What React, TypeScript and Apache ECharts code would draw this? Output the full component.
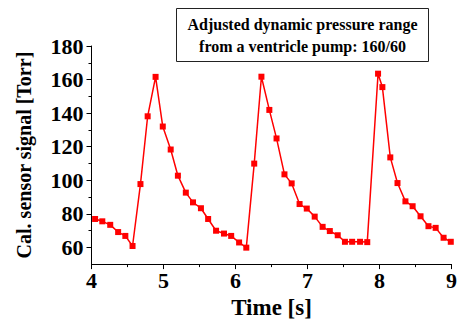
import React, { useEffect, useRef } from "react";
import * as echarts from "echarts";

const times = [
  4.05, 4.15, 4.26, 4.37, 4.47, 4.57, 4.68, 4.78, 4.89, 4.99, 5.1, 5.2, 5.31, 5.41, 5.52, 5.62,
  5.73, 5.84, 5.94, 6.05, 6.15, 6.26, 6.36, 6.47, 6.57, 6.68, 6.78, 6.89, 6.99, 7.1, 7.21, 7.31,
  7.42, 7.52, 7.62, 7.73, 7.83, 7.98, 8.04, 8.15, 8.25, 8.36, 8.46, 8.57, 8.68, 8.78, 8.89, 8.99,
];
const signal = [
  76.9, 75.5, 73.4, 69.1, 66.8, 60.8, 97.7, 138.1, 161.6, 132.0, 118.3, 102.7, 92.6, 86.8, 83.3, 76.9,
  69.9, 68.2, 66.8, 62.9, 59.8, 109.9, 161.7, 141.9, 124.9, 103.5, 98.1, 85.8, 83.1, 78.3, 72.2, 69.7,
  67.2, 63.3, 63.3, 63.3, 63.1, 163.5, 155.5, 113.6, 98.3, 87.4, 84.5, 78.5, 72.6, 71.6, 65.7, 63.3,
];
const yMajorTicks = [60, 80, 100, 120, 140, 160, 180];
const yMinorTicks = [70, 90, 110, 130, 150, 170];
const annotationLines = ["Adjusted dynamic pressure range", "from a ventricle pump: 160/60"];

const FONT = "'Liberation Serif', 'Times New Roman', serif";

export default function App() {
  const ref = useRef<HTMLDivElement>(null);
  useEffect(() => {
    if (!ref.current) return;
    const chart = echarts.init(ref.current, null, { renderer: "svg" });
    const data = times.map((t, i) => [t, signal[i]]);
    chart.setOption({
      animation: false,
      backgroundColor: "#ffffff",
      grid: { left: 91.5, right: 4, top: 46, bottom: 55 },
      xAxis: {
        type: "value",
        min: 4,
        max: 9,
        interval: 1,
        axisLine: { show: true, lineStyle: { color: "#000", width: 1 } },
        axisTick: { show: true, length: 5, lineStyle: { color: "#000" } },
        minorTick: { show: true, splitNumber: 2, length: 3, lineStyle: { color: "#000" } },
        splitLine: { show: false },
        axisLabel: { color: "#000", fontFamily: FONT, fontWeight: "bold", fontSize: 22, margin: 5 },
        name: "Time [s]",
        nameLocation: "middle",
        nameGap: 28,
        nameTextStyle: { color: "#000", fontFamily: FONT, fontWeight: "bold", fontSize: 23 },
      },
      yAxis: [
        {
          type: "value",
          min: 50,
          max: 180,
          axisLine: { show: true, lineStyle: { color: "#000", width: 1 } },
          axisTick: { show: true, length: 5, customValues: yMajorTicks, lineStyle: { color: "#000" } },
          splitLine: { show: false },
          axisLabel: {
            color: "#000",
            fontFamily: FONT,
            fontWeight: "bold",
            fontSize: 22,
            margin: 8,
            customValues: yMajorTicks,
          },
          name: "Cal. sensor signal [Torr]",
          nameLocation: "middle",
          nameGap: 58,
          nameTextStyle: { color: "#000", fontFamily: FONT, fontWeight: "bold", fontSize: 20 },
        },
        {
          type: "value",
          min: 50,
          max: 180,
          position: "left",
          axisLine: { show: false },
          axisTick: { show: true, length: 3, customValues: yMinorTicks, lineStyle: { color: "#000" } },
          axisLabel: { show: false },
          splitLine: { show: false },
        },
      ],
      series: [
        {
          type: "line",
          data,
          yAxisIndex: 0,
          symbol: "rect",
          symbolSize: 6,
          itemStyle: { color: "#ff0000" },
          lineStyle: { color: "#ff0000", width: 1.5 },
        },
      ],
      graphic: [
        {
          type: "group",
          left: 176,
          top: 8,
          children: [
            {
              type: "rect",
              shape: { x: 0, y: 0, width: 252, height: 53 },
              style: { fill: "#fff", stroke: "#222", lineWidth: 1 },
            },
            {
              type: "text",
              x: 126,
              y: 16,
              style: {
                text: annotationLines[0],
                fill: "#000",
                font: `bold 16px ${FONT}`,
                textAlign: "center",
                textVerticalAlign: "middle",
              },
            },
            {
              type: "text",
              x: 126,
              y: 38,
              style: {
                text: annotationLines[1],
                fill: "#000",
                font: `bold 16px ${FONT}`,
                textAlign: "center",
                textVerticalAlign: "middle",
              },
            },
          ],
        },
      ],
    });
    return () => chart.dispose();
  }, []);
  return (
    <div
      ref={ref}
      style={{ position: "absolute", left: 0, top: 0, width: 460, height: 324 }}
    />
  );
}
